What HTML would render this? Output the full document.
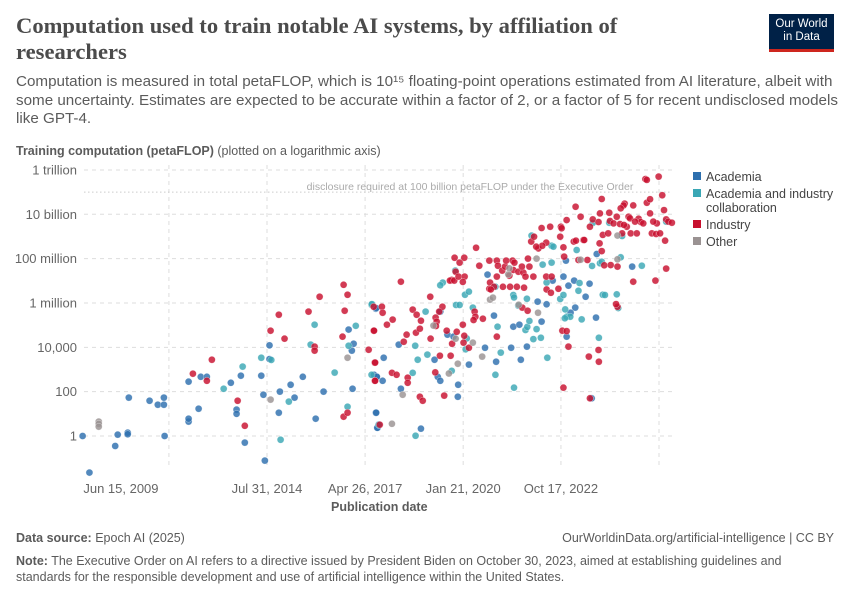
<!DOCTYPE html>
<html><head><meta charset="utf-8">
<style>
body{margin:0;background:#fff;font-family:"Liberation Sans",sans-serif;}
#wrap{position:relative;width:850px;height:600px;overflow:hidden;}
.t{position:absolute;white-space:nowrap;}
</style></head><body>
<div id="wrap">
<div class="t" style="left:16px;top:13px;font-family:'Liberation Serif',serif;font-weight:bold;font-size:22.6px;line-height:26px;color:#4b4b4b;">Computation used to train notable AI systems, by affiliation of<br>researchers</div>
<div style="position:absolute;left:769px;top:14px;width:65px;height:38px;background:#002147;color:#fff;font-size:11.5px;line-height:13px;text-align:center;padding-top:4px;box-sizing:border-box;border-bottom:3px solid #ce261e;">Our World<br>in Data</div>
<div class="t" style="left:16px;top:73px;font-size:15.2px;line-height:18.5px;color:#5b5b5b;">Computation is measured in total petaFLOP, which is 10¹⁵ floating-point operations estimated from AI literature, albeit with<br>some uncertainty. Estimates are expected to be accurate within a factor of 2, or a factor of 5 for recent undisclosed models<br>like GPT-4.</div>
<div class="t" style="left:16px;top:144px;font-size:12.5px;color:#5b5b5b;"><b>Training computation (petaFLOP)</b> (plotted on a logarithmic axis)</div>
<svg id="chart" width="850" height="600" style="position:absolute;left:0;top:0;"></svg>
<div class="t" style="left:331px;top:500px;font-size:12.5px;font-weight:bold;color:#5b5b5b;">Publication date</div>
<div class="t" style="left:16px;top:531px;font-size:12.5px;color:#5b5b5b;"><b>Data source:</b> Epoch AI (2025)</div>
<div class="t" style="right:16px;top:531px;font-size:12.5px;color:#5b5b5b;">OurWorldinData.org/artificial-intelligence | CC BY</div>
<div class="t" style="left:16px;top:553px;font-size:12.5px;line-height:16px;color:#5b5b5b;"><b>Note:</b> The Executive Order on AI refers to a directive issued by President Biden on October 30, 2023, aimed at establishing guidelines and<br>standards for the responsible development and use of artificial intelligence within the United States.</div>
</div>
<script>
// data: [year, log10(petaFLOP)]
const academia=[[2009.43,0],[2009.62,-1.65],[2010.34,-0.45],[2010.41,0.06],[2010.69,0.15],[2010.69,0.08],[2010.72,1.73],[2011.30,1.59],[2011.53,1.41],[2011.70,1.41],[2011.70,1.73],[2011.72,0],[2012.39,2.45],[2012.39,0.65],[2012.39,0.78],[2012.67,1.23],[2012.73,2.67],[2012.90,2.67],[2013.57,2.40],[2013.73,1.19],[2013.73,1.0],[2013.85,2.72],[2013.96,-0.3],[2014.42,2.72],[2014.48,1.86],[2014.52,-1.11],[2014.65,4.09],[2014.65,3.47],[2014.91,1.05],[2014.94,2.0],[2015.24,2.31],[2015.35,1.73],[2015.58,2.67],[2015.94,0.78],[2016.16,2.0],[2016.86,4.8],[2016.95,3.85],[2017.0,4.16],[2016.97,2.13],[2017.62,5.74],[2017.62,1.05],[2017.67,0.37],[2017.64,2.67],
[2017.63,5.77],[2017.57,2.76],[2017.65,2.67],[2017.81,2.49],[2017.84,3.53],[2017.63,1.05],[2017.70,0.52],[2017.66,0.37],[2018.32,2.13],[2018.26,4.12],[2019.26,3.44],[2019.42,5.61],[2019.35,2.67],[2019.42,2.49],[2019.62,4.57],[2019.79,4.48],[2019.92,2.31],[2019.91,1.77],[2020.22,3.22],[2020.67,3.98],[2020.74,7.28],[2020.92,5.43],[2020.98,3.35],[2021.46,4.93],[2021.40,3.98],[2021.63,5.02],[2021.67,3.44],[2021.84,4.03],[2022.14,6.06],[2022.25,5.16],[2022.39,5.94],[2022.56,7.01],[2022.86,7.19],[2022.93,7.91],[2022.95,4.48],[2023.00,6.78],[2023.06,5.56],[2023.19,5.79],[2023.16,7.01],[2023.48,6.28],[2023.59,6.87],[2023.77,5.34],[2023.79,8.21],[2024.78,7.64],[2018.88,0.33],[2023.65,1.70]];
const collab=[[2013.37,2.13],[2013.90,3.13],[2014.42,3.53],[2014.70,3.43],[2014.96,-0.17],[2015.19,1.55],[2015.80,4.12],[2015.91,5.02],[2016.47,2.86],[2016.83,1.32],[2016.86,4.07],[2017.06,4.97],[2017.50,5.92],[2017.50,2.76],[2017.70,0.5],
[2017.51,5.95],[2018.72,4.07],[2018.79,3.44],[2019.06,3.67],[2019.01,5.61],[2018.65,2.85],[2019.49,6.92],[2019.42,6.80],[2019.86,5.91],[2019.96,5.91],[2020.11,6.37],[2020.22,6.51],[2020.33,5.79],[2020.16,4.40],[2020.13,3.91],[2019.74,2.94],[2020.96,6.73],[2021.02,4.93],[2021.11,3.76],[2020.96,2.76],[2021.46,6.36],[2021.48,6.25],[2021.60,5.88],[2021.48,2.18],[2021.80,4.78],[2021.85,4.92],[2021.91,5.19],[2021.97,9.04],[2021.84,6.19],[2022.02,4.37],[2022.11,4.82],[2022.23,4.43],[2022.28,7.73],[2022.53,8.58],[2022.58,8.54],[2022.53,7.82],[2022.39,6.92],[2022.41,3.53],[2022.77,6.18],[2022.86,6.36],[2022.91,5.71],[2022.95,5.38],[2023.05,5.38],[2022.90,5.31],[2023.23,8.39],[2023.28,6.55],[2023.31,6.90],[2023.37,5.26],[2023.66,7.67],[2023.68,9.61],[2023.85,4.43],[2023.88,7.79],[2023.96,6.37],[2023.93,7.86],[2024.02,6.36],[2024.35,6.39],[2024.39,5.77],[2024.46,8.06],[2024.14,9.62],[2024.50,9.02],[2025.05,7.68],[2025.73,9.67],[2018.73,0.01],[2019.84,7.46]];
const industry=[[2012.51,2.81],[2012.90,2.49],[2013.04,3.44],[2013.76,1.59],[2013.96,0.46],[2014.68,4.75],[2014.91,5.47],[2015.07,4.39],[2015.74,5.61],[2015.91,4.03],[2015.91,3.85],[2016.05,6.28],[2016.72,6.82],[2016.83,6.37],[2016.75,5.65],[2016.69,4.48],[2016.72,0.87],[2016.83,1.05],[2017.42,3.89],[2017.56,4.75],[2017.59,3.31],[2017.59,2.49],[2017.56,5.83],[2017.73,0.51],
[2017.57,4.75],[2017.79,5.83],[2017.81,5.56],[2017.93,5.02],[2018.09,5.25],[2017.60,3.31],[2017.60,2.49],[2018.07,2.85],[2018.20,2.76],[2018.32,6.96],[2018.40,4.25],[2018.48,4.57],[2018.51,2.63],[2018.51,2.40],[2018.65,5.70],[2018.76,5.47],[2018.74,4.66],[2018.88,5.20],[2018.85,4.84],[2018.85,1.77],[2018.93,1.59],[2019.14,6.28],[2019.15,4.39],[2019.28,2.87],[2019.29,5.34],[2019.32,5.16],[2019.41,3.62],[2019.53,1.82],[2019.71,3.62],[2019.75,4.16],[2019.85,7.41],[2019.74,7.04],[2019.69,7.01],[2019.81,7.01],[2019.93,7.19],[2019.82,8.04],[2019.96,7.82],[2020.09,8.04],[2020.10,7.19],[2020.05,6.95],[2019.88,4.70],[2020.05,5.02],[2020.09,4.52],[2020.22,3.98],[2020.38,5.61],[2020.42,8.49],[2020.51,7.68],[2020.61,5.29],[2020.79,7.91],[2020.81,6.92],[2020.79,6.64],[2020.92,6.73],[2021.00,4.48],[2021.00,7.91],[2021.03,7.68],[2021.15,7.46],[2021.17,6.73],[2021.23,7.64],[2021.26,7.91],[2021.37,6.73],[2021.44,7.91],[2021.49,7.82],[2021.46,7.49],[2021.56,6.73],[2021.60,7.41],[2021.71,5.79],[2021.74,7.37],[2021.76,6.69],[2021.86,5.65],[2021.91,7.64],[2021.87,8.00],[2021.96,8.77],[2022.02,7.19],[2022.04,8.99],[2022.16,8.46],[2022.25,9.38],[2022.38,8.72],[2022.27,8.58],[2022.10,8.54],[2022.38,7.19],[2022.39,6.61],[2022.53,7.19],[2022.49,9.44],[2022.51,6.46],[2022.72,6.64],[2022.77,8.99],[2022.79,9.44],[2022.86,8.51],[2023.00,4.03],[2022.88,8.09],[2022.86,2.18],[2022.83,4.75],[2022.95,4.73],[2023.15,8.77],[2023.20,10.34],[2023.34,9.89],[2023.42,8.84],[2023.28,7.94],[2023.53,7.94],[2023.57,3.58],[2023.60,9.44],[2023.68,9.77],[2023.84,3.88],[2023.85,3.35],[2023.84,9.65],[2023.88,10.04],[2023.87,8.69],[2023.93,8.34],[2023.96,9.07],[2023.93,10.69],[2024.00,7.70],[2024.11,9.14],[2024.14,10.07],[2024.18,7.71],[2024.35,9.89],[2024.37,7.64],[2024.50,9.14],[2024.57,10.48],[2024.54,10.40],[2024.46,10.27],[2024.63,9.44],[2024.68,9.89],[2024.74,9.14],[2024.81,10.40],[2024.91,9.14],[2024.96,9.80],[2025.02,9.65],[2025.09,9.59],[2025.19,10.52],[2025.28,10.68],[2025.28,10.04],[2025.33,9.14],[2025.47,9.59],[2025.52,11.70],[2025.62,10.86],[2025.67,10.19],[2025.70,8.81],[2025.73,7.55],[2025.73,9.77],[2025.43,7.01],[2025.15,11.59],[2025.19,11.55],[2025.45,9.11],[2025.56,9.14],[2024.37,5.83],[2024.81,6.96],[2024.33,5.95],[2024.16,9.70],[2024.26,9.59],[2024.44,9.56],[2024.55,9.52],[2024.72,9.82],[2024.86,9.67],[2025.37,9.67],[2025.79,9.67],[2025.89,9.62],[2023.60,1.70],[2023.44,8.84],[2023.21,8.81],[2022.95,9.74],[2022.81,9.37],[2021.70,7.64],[2021.80,7.19],[2021.35,7.23],[2021.00,7.19],[2020.83,6.61],[2020.40,5.38],[2019.60,4.75],[2019.48,5.83],[2019.39,5.61],[2019.30,4.96],[2020.07,4.21],[2020.35,5.23]];
const other=[[2009.88,0.65],[2009.88,0.55],[2009.88,0.42],[2014.68,1.64],[2016.83,3.53],[2018.37,1.86],[2018.07,0.55],[2019.23,4.98],[2019.85,4.39],[2019.66,2.82],[2019.91,3.26],[2020.33,4.21],[2020.59,3.58],[2020.81,6.15],[2020.89,6.24],[2021.32,7.29],[2021.35,7.56],[2021.61,5.92],[2022.15,5.56],[2022.11,8.00],[2023.34,7.95],[2024.37,7.97],[2024.37,9.04]];
const yTickVals=[0,2,4,6,8,10,12];
const yTickLabels=["1","100","10,000","1 million","100 million","10 billion","1 trillion"];
const xTickYears=[2009.45,2014.58,2017.32,2020.06,2022.79];
const xTickLabels=["Jun 15, 2009","Jul 31, 2014","Apr 26, 2017","Jan 21, 2020","Oct 17, 2022"];
const xGridYears=[2011.84,2014.58,2017.32,2020.06,2022.79,2025.53];
const thresholdLog=11;
const seriesNames=["Academia","Academia and industry collaboration","Industry","Other"];
const seriesColors=["#2d6fae","#3aa7b5","#c8102e","#9a9292"];

const svg=document.getElementById('chart');
const NS='http://www.w3.org/2000/svg';
const X0=84,X1=672;
const xs=y=>267+(y-2014.58)*35.8;
const ys=l=>436-l*22.17;
function mk(tag,attrs){const e=document.createElementNS(NS,tag);for(const k in attrs)e.setAttribute(k,attrs[k]);svg.appendChild(e);return e;}
yTickVals.forEach((v,i)=>{
  const g=mk('line',{x1:X0,x2:X1,y1:ys(v),y2:ys(v),stroke:'#ddd','stroke-dasharray':'4,4'});
  
  
  const t=mk('text',{x:77,y:ys(v)+4.5,'text-anchor':'end','font-size':13,fill:'#666','font-family':'Liberation Sans, sans-serif'});
  t.textContent=yTickLabels[i];
  
  
});
xGridYears.forEach(yr=>{
  const g=mk('line',{x1:xs(yr),x2:xs(yr),y1:165,y2:468,stroke:'#ddd','stroke-dasharray':'4,4'});
  
  
});
xTickYears.forEach((yr,i)=>{
  const anchor=i===0?'start':'middle';
  const t=mk('text',{x:xs(yr),y:493,'text-anchor':anchor,'font-size':13,fill:'#666','font-family':'Liberation Sans, sans-serif'});
  t.textContent=xTickLabels[i];
  
  
});
const th=mk('line',{x1:X0,x2:X1,y1:ys(thresholdLog),y2:ys(thresholdLog),stroke:'#ccc','stroke-dasharray':'1.5,2.5'});


const tt=mk('text',{x:470,y:ys(thresholdLog)-2,'text-anchor':'middle','font-size':10.5,fill:'#aaa','font-family':'Liberation Sans, sans-serif'});
tt.textContent='disclosure required at 100 billion petaFLOP under the Executive Order';


[academia,collab,industry,other].forEach((arr,si)=>{
  arr.forEach(p=>{
    const c=mk('circle',{cx:xs(p[0]),cy:ys(p[1]),r:3.5,fill:seriesColors[si],'fill-opacity':0.82,stroke:'#fff','stroke-width':0.3});
    
    
  });
});
const legY=[177,194,225,242];
const legLines=[["Academia"],["Academia and industry","collaboration"],["Industry"],["Other"]];
seriesNames.forEach((n,i)=>{
  const r=mk('rect',{x:693,y:legY[i]-5,width:8,height:8,fill:seriesColors[i]});
  
  
  legLines[i].forEach((ln,j)=>{
    const t=mk('text',{x:706,y:legY[i]+4+j*14,'font-size':12.5,fill:'#444','font-family':'Liberation Sans, sans-serif'});
    t.textContent=ln;
    
    
  });
});
</script>
</body></html>
